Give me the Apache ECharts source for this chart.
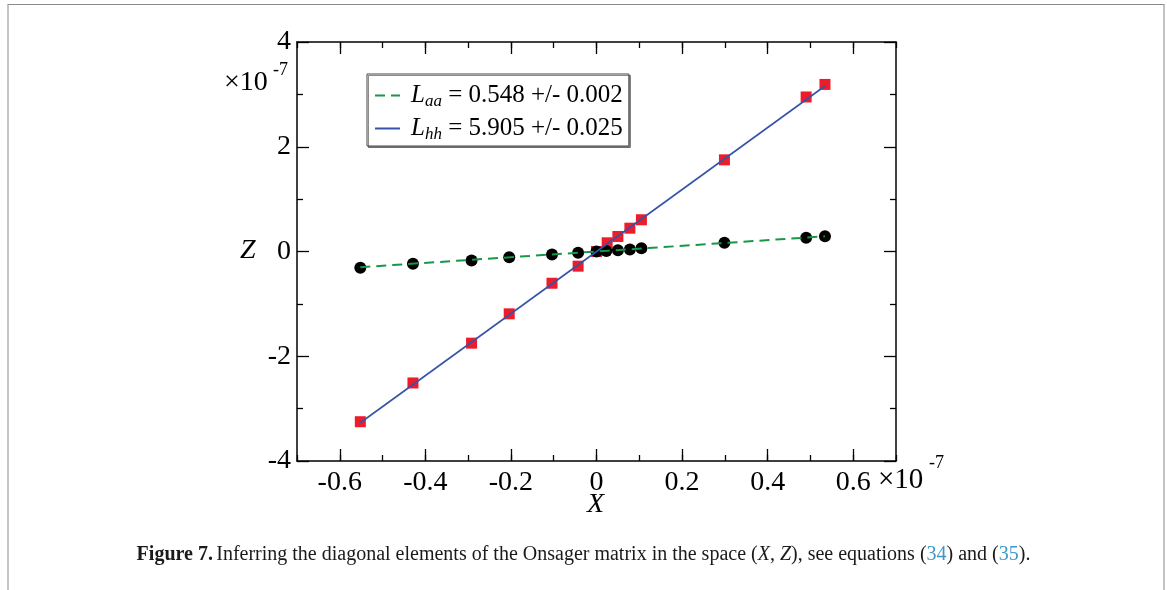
<!DOCTYPE html>
<html lang="en">
<head>
    <meta charset="UTF-8">
    <title>Onsager matrix diagonal elements</title>
    <script src="https://cdn.jsdelivr.net/npm/echarts@6/dist/echarts.min.js"></script>
    <style>
        html, body { margin: 0; padding: 0; background: #fff; }
        #page { position: relative; width: 1167px; height: 590px; }
        #chart { position: absolute; left: 0; top: 0; width: 1167px; height: 590px; }
        #edge { position: absolute; left: 7px; top: 4px; width: 1154px; height: 586px;
                border-top: 1px solid #8a8a8a; border-left: 2px solid #c4c4c4; border-right: 2px solid #c4c4c4; }
    </style>
</head>
<body>
<div id="page">
    <div id="edge"></div>
    <div id="chart"></div>
</div>

<script>
    // values, in units of 1e-7
    let xAA = [-0.552, -0.429, -0.292, -0.204, -0.104, -0.043, 0.0, 0.023, 0.05, 0.078, 0.105, 0.299, 0.49, 0.534];
    let zAA = [-0.31, -0.235, -0.17, -0.11, -0.057, -0.025, 0.0, 0.01, 0.025, 0.04, 0.06, 0.166, 0.262, 0.29];
    let xHH = [-0.552, -0.429, -0.292, -0.204, -0.104, -0.043, 0.0, 0.025, 0.05, 0.078, 0.105, 0.299, 0.49, 0.534];
    let zHH = [-3.25, -2.51, -1.75, -1.19, -0.606, -0.28, 0.0, 0.166, 0.287, 0.445, 0.606, 1.75, 2.95, 3.19];
    // fitted lines (end points)
    let fitX = [-0.552, 0.534];
    let fitAA = [-0.30, 0.29];
    let fitHH = [-3.27, 3.16];
    let legendText = {
        aa: ['aa', '= 0.548 +/- 0.002'],
        hh: ['hh', '= 5.905 +/- 0.025']
    };

    const serif = 'Liberation Serif';

    function pairs(xs, ys) {
        let out = [];
        for (let i = 0; i < xs.length; i++) out.push([xs[i], ys[i]]);
        return out;
    }

    function fmtX(v) {
        if (Math.abs(v) < 1e-9) return '0';
        return (v < 0 ? '-' : '') + Math.abs(v).toFixed(1);
    }

    let frameLine = {show: true, onZero: false, lineStyle: {color: '#000', width: 1.5}};
    let noLine = {show: false, onZero: false};
    let tickStyle = {color: '#000', width: 1.3};

    // grid 0: the full frame (-0.7..0.7); grid 1: spans -0.6..0.6 for major x ticks
    let G = {left: 297, top: 42, width: 599, height: 419};
    let g1Left = G.left + G.width * 0.1 / 1.4;
    let g1Width = G.width * 1.2 / 1.4;

    let option = {
        animation: false,
        backgroundColor: 'transparent',
        textStyle: {fontFamily: serif, color: '#000'},
        grid: [
            {left: G.left, top: G.top, width: G.width, height: G.height, containLabel: false, outerBoundsMode: 'none'},
            {left: g1Left, top: G.top, width: g1Width, height: G.height, containLabel: false, outerBoundsMode: 'none'}
        ],
        xAxis: [
            {gridIndex: 0, type: 'value', position: 'bottom', min: -0.7, max: 0.7, interval: 0.1,
                axisLine: frameLine, axisTick: {show: true, inside: true, length: 6, lineStyle: tickStyle},
                axisLabel: {show: false}, splitLine: {show: false}},
            {gridIndex: 0, type: 'value', position: 'top', min: -0.7, max: 0.7, interval: 0.1,
                axisLine: frameLine, axisTick: {show: true, inside: true, length: 6, lineStyle: tickStyle},
                axisLabel: {show: false}, splitLine: {show: false}},
            {gridIndex: 1, type: 'value', position: 'bottom', min: -0.6, max: 0.6, interval: 0.2,
                axisLine: noLine, axisTick: {show: true, inside: true, length: 12, lineStyle: tickStyle},
                axisLabel: {show: true, margin: 8, fontSize: 28, fontFamily: serif, color: '#000', formatter: fmtX},
                splitLine: {show: false}},
            {gridIndex: 1, type: 'value', position: 'top', min: -0.6, max: 0.6, interval: 0.2,
                axisLine: noLine, axisTick: {show: true, inside: true, length: 12, lineStyle: tickStyle},
                axisLabel: {show: false}, splitLine: {show: false}}
        ],
        yAxis: [
            {gridIndex: 0, type: 'value', position: 'left', min: -4, max: 4, interval: 2,
                axisLine: frameLine, axisTick: {show: true, inside: true, length: 12, lineStyle: tickStyle},
                minorTick: {show: true, splitNumber: 2, length: 6, lineStyle: tickStyle},
                axisLabel: {show: true, margin: 6, fontSize: 28, fontFamily: serif, color: '#000'},
                splitLine: {show: false}},
            {gridIndex: 0, type: 'value', position: 'right', min: -4, max: 4, interval: 2,
                axisLine: frameLine, axisTick: {show: true, inside: true, length: 12, lineStyle: tickStyle},
                minorTick: {show: true, splitNumber: 2, length: 6, lineStyle: tickStyle},
                axisLabel: {show: false}, splitLine: {show: false}},
            {gridIndex: 1, type: 'value', show: false, min: -4, max: 4, axisLine: noLine}
        ],
        legend: {
            orient: 'vertical',
            left: 367, top: 74,
            padding: [7, 6, 3, 7],
            itemGap: 4,
            itemWidth: 25, itemHeight: 14,
            backgroundColor: '#fff',
            borderColor: '#444', borderWidth: 1,
            shadowColor: 'rgba(0,0,0,0.45)', shadowOffsetX: 1.5, shadowOffsetY: 1.5, shadowBlur: 0,
            itemStyle: {opacity: 0},
            data: ['aa', 'hh'],
            formatter: function (name) {
                let t = legendText[name];
                return '{l|L}{s|' + t[0] + '}{t| ' + t[1] + '}';
            },
            textStyle: {
                fontFamily: serif, color: '#000', padding: [0, 0, 0, 6],
                rich: {
                    l: {fontFamily: serif, fontStyle: 'italic', fontSize: 25, lineHeight: 29},
                    s: {fontFamily: serif, fontStyle: 'italic', fontSize: 17, verticalAlign: 'bottom', lineHeight: 17, padding: [12, 0, 0, 0]},
                    t: {fontFamily: serif, fontSize: 25, lineHeight: 29}
                }
            }
        },
        graphic: [
            {type: 'text', left: 224, top: 69, style: {text: '×10', font: '28px "Liberation Serif"', fill: '#000'}},
            {type: 'text', left: 273, top: 61, style: {text: '-7', font: '18px "Liberation Serif"', fill: '#000'}},
            {type: 'text', left: 878, top: 466, style: {text: '×10', font: '29px "Liberation Serif"', fill: '#000'}},
            {type: 'text', left: 929, top: 454, style: {text: '-7', font: '18px "Liberation Serif"', fill: '#000'}},
            {type: 'text', left: 240, top: 237, style: {text: 'Z', font: 'italic 28px "Liberation Serif"', fill: '#000'}},
            {type: 'text', left: 587, top: 491, style: {text: 'X', font: 'italic 28px "Liberation Serif"', fill: '#000'}},
            {type: 'text', left: 'center', top: 545, style: {
                text: '{b|Figure 7.} {n|Inferring the diagonal elements of the Onsager matrix in the space (}{i|X}{n|, }{i|Z}{n|), see equations (}{c|34}{n|) and (}{c|35}{n|).}',
                rich: {
                    b: {fontFamily: serif, fontWeight: 'bold', fontSize: 20, fill: '#1a1a1a'},
                    n: {fontFamily: serif, fontSize: 20, fill: '#1a1a1a'},
                    i: {fontFamily: serif, fontStyle: 'italic', fontSize: 20, fill: '#1a1a1a'},
                    c: {fontFamily: serif, fontSize: 20, fill: '#3d97cc'}
                }
            }}
        ],
        series: [
            {name: 'hh pts', type: 'scatter', xAxisIndex: 0, yAxisIndex: 0, symbol: 'rect', symbolSize: 11,
                itemStyle: {color: '#ec1c2a', opacity: 1}, data: pairs(xHH, zHH), z: 2},
            {name: 'aa pts', type: 'scatter', xAxisIndex: 0, yAxisIndex: 0, symbol: 'circle', symbolSize: 12,
                itemStyle: {color: '#000', opacity: 1}, data: pairs(xAA, zAA), z: 3},
            {name: 'aa', type: 'line', xAxisIndex: 0, yAxisIndex: 0, symbol: 'none', showSymbol: false,
                lineStyle: {color: '#18964a', width: 2, type: [10, 6]}, itemStyle: {color: '#18964a'},
                data: pairs(fitX, fitAA), z: 4},
            {name: 'hh', type: 'line', xAxisIndex: 0, yAxisIndex: 0, symbol: 'none', showSymbol: false,
                lineStyle: {color: '#3653a8', width: 1.6}, itemStyle: {color: '#3653a8'},
                data: pairs(fitX, fitHH), z: 4}
        ]
    };

    let myChart = echarts.init(document.getElementById('chart'), null, {renderer: 'canvas'});
    myChart.setOption(option);
</script>
</body>
</html>
